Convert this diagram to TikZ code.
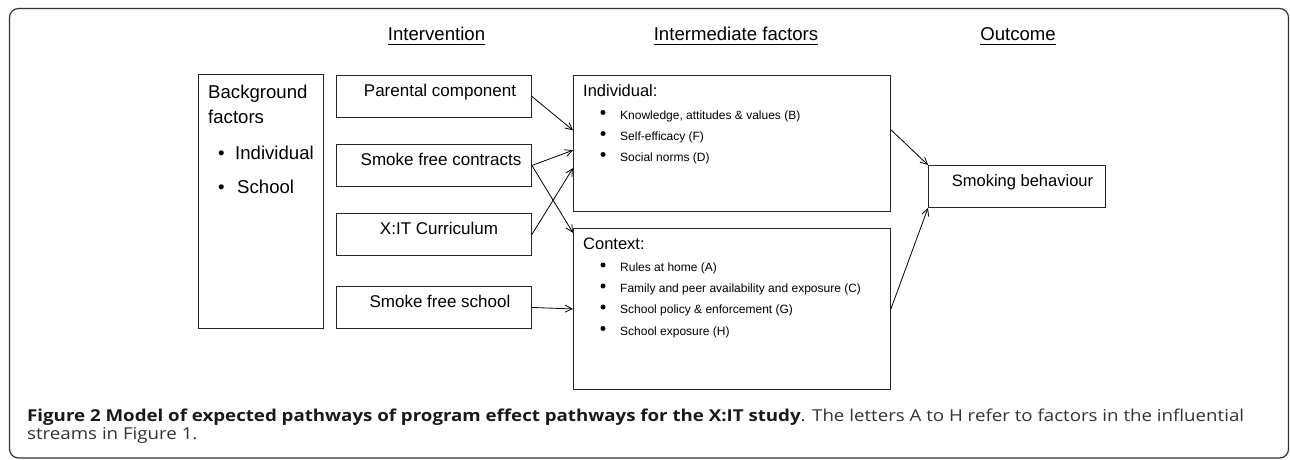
\documentclass[tikz,border=0pt]{standalone}
\usepackage{fontspec}
\setmainfont{Liberation Sans}
\newfontfamily\capfont[FakeStretch=1.14]{Open Sans}
\usetikzlibrary{arrows.meta,calc}
\begin{document}
\begin{tikzpicture}[x=1pt,y=-1pt,
  box/.style={draw=black!85, line width=0.9pt, inner sep=0pt, anchor=north west},
  arr/.style={-{Straight Barb[length=7pt,width=7pt]}, line width=0.8pt},
  txt/.style={inner sep=0pt, anchor=base west},
  headtxt/.style={inner sep=0pt, anchor=base, font=\fontsize{18.6}{22}\selectfont},
  bigtxt/.style={inner sep=0pt, anchor=base west, font=\fontsize{18.6}{22}\selectfont},
  boxtxt/.style={inner sep=0pt, anchor=base, font=\fontsize{17}{20}\selectfont},
  subtxt/.style={inner sep=0pt, anchor=base west, font=\fontsize{16.5}{20}\selectfont},
  itemtxt/.style={inner sep=0pt, anchor=base west, font=\fontsize{12}{14}\selectfont},
  bdot/.style={circle, fill=black, inner sep=0pt, minimum size=5pt},
  uline/.style={line width=1.4pt},
  captxt/.style={inner sep=0pt, anchor=base west, text=black!80, font=\capfont\fontsize{16.4}{18}\selectfont}]
\useasboundingbox (0,0) rectangle (1290,460);
\fill[white] (0,0) rectangle (1290,460);
\draw[black!80, line width=1.2pt, rounded corners=9pt] (9.5,8.5) rectangle (1288.5,458);

% headings
\node[headtxt] (h1) at (436.5,41) {Intervention};
\node[headtxt] (h2) at (736,41) {Intermediate factors};
\node[headtxt] (h3) at (1018,41) {Outcome};
\foreach \h in {h1,h2,h3}{
  \draw[uline] ($(\h.base west)+(0,3.5)$) -- ($(\h.base east)+(0,3.5)$);
}

% background box
\node[box, minimum width=125pt, minimum height=254pt] (bg) at (198,74) {};
\node[bigtxt] (bg1) at (208,99) {Background};
\node[bigtxt] (bg2) at (208,123) {factors};
\node[bigtxt] (bgb1) at (218,159) {•};
\node[bigtxt] (bg3) at (235,159) {Individual};
\node[bigtxt] (bgb2) at (218,193) {•};
\node[bigtxt] (bg4) at (237,193) {School};

% intervention boxes
\node[box, minimum width=195pt, minimum height=42pt] (par) at (336,75) {};
\node[box, minimum width=195pt, minimum height=42pt] (con) at (336,144) {};
\node[box, minimum width=195pt, minimum height=42pt] (cur) at (336,213) {};
\node[box, minimum width=195pt, minimum height=42pt] (sch) at (336,286) {};
\node[boxtxt] (part) at (440,96) {Parental component};
\node[boxtxt] (cont) at (441,165) {Smoke free contracts};
\node[boxtxt] (curt) at (439,234) {X:IT Curriculum};
\node[boxtxt] (scht) at (440,307) {Smoke free school};

% intermediate boxes
\node[box, minimum width=317pt, minimum height=136pt] (ind) at (573,75) {};
\node[box, minimum width=317pt, minimum height=161pt] (ctx) at (573,228) {};
\node[subtxt] (indt) at (583,96) {Individual:};
\node[bdot] (d1) at (603,112.5) {};
\node[itemtxt] (i1) at (620,119) {Knowledge, attitudes \& values (B)};
\node[bdot] (d2) at (603,133.5) {};
\node[itemtxt] (i2) at (620,140) {Self-efficacy (F)};
\node[bdot] (d3) at (603,154.5) {};
\node[itemtxt] (i3) at (620,161) {Social norms (D)};

\node[subtxt] (ctxt) at (583,249) {Context:};
\node[bdot] (e1) at (603,265) {};
\node[itemtxt] (c1) at (620,271.5) {Rules at home (A)};
\node[bdot] (e2) at (603,286) {};
\node[itemtxt] (c2) at (620,292.5) {Family and peer availability and exposure (C)};
\node[bdot] (e3) at (603,307) {};
\node[itemtxt] (c3) at (620,313.5) {School policy \& enforcement (G)};
\node[bdot] (e4) at (603,328.5) {};
\node[itemtxt] (c4) at (620,335) {School exposure (H)};

% outcome
\node[box, minimum width=177pt, minimum height=42pt] (smk) at (928,165) {};
\node[boxtxt, font=\fontsize{16.5}{20}\selectfont] (smkt) at (1022.5,186) {Smoking behaviour};

% arrows
\draw[arr] (par.east) -- ($(ind.north west)!0.404!(ind.south west)$);
\draw[arr] (con.east) -- ($(ind.north west)!0.55!(ind.south west)$);
\draw[arr] (con.east) -- ($(ctx.north west)!0.03!(ctx.south west)$);
\draw[arr] (cur.east) -- ($(ind.north west)!0.68!(ind.south west)$);
\draw[arr] (sch.east) -- (ctx.west);
\draw[arr] ($(ind.north east)!0.4!(ind.south east)$) -- (smk.north west);
\draw[arr] (ctx.east) -- (smk.south west);

% caption
\node[captxt] (cap1) at (27,421.5) {\textbf{\color{black!90}Figure 2 Model of expected pathways of program effect pathways for the X:IT study}. The letters A to H refer to factors in the influential};
\node[captxt] (cap2) at (27,439) {streams in Figure 1.};
\end{tikzpicture}
\end{document}
